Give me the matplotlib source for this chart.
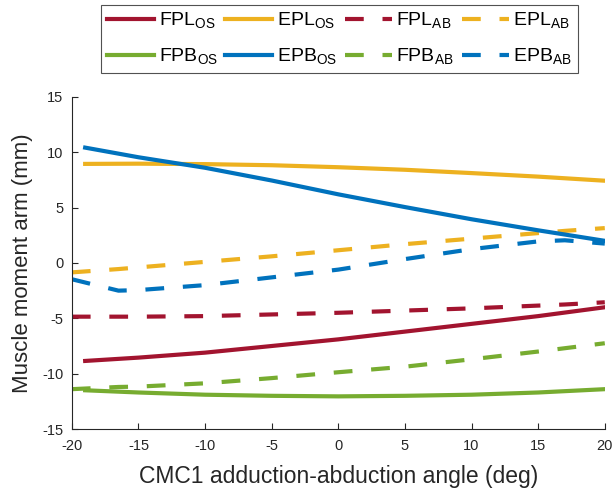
import matplotlib.pyplot as plt

plt.rcParams['font.family'] = ['Liberation Sans', 'DejaVu Sans']
plt.rcParams['axes.unicode_minus'] = False

# angulos (graus)
ang_os = [-19, -15, -10, -5, 0, 5, 10, 15, 20]
ang_ab = [-20, -16.5, -15, -10, -5, 0, 5, 10, 15, 17, 20]

# braços de momento (mm) - modelo OS
fpl_os = [-8.85, -8.55, -8.1, -7.5, -6.9, -6.2, -5.5, -4.8, -4.0]
epl_os = [8.95, 8.97, 8.93, 8.83, 8.65, 8.42, 8.12, 7.8, 7.43]
fpb_os = [-11.5, -11.7, -11.9, -12.0, -12.05, -12.0, -11.9, -11.7, -11.4]
epb_os = [10.42, 9.55, 8.6, 7.45, 6.2, 5.05, 3.95, 2.95, 2.0]

# braços de momento (mm) - modelo AB
fpl_ab = [-4.85, -4.85, -4.85, -4.8, -4.65, -4.5, -4.3, -4.1, -3.85, -3.75, -3.55]
epl_ab = [-0.85, -0.55, -0.4, 0.1, 0.6, 1.15, 1.7, 2.2, 2.7, 2.9, 3.15]
fpb_ab = [-11.4, -11.2, -11.17, -10.87, -10.4, -9.87, -9.37, -8.7, -8.0, -7.7, -7.25]
epb_ab = [-1.47, -2.5, -2.45, -2.0, -1.3, -0.6, 0.35, 1.25, 1.95, 2.05, 1.75]

c_fpl = '#A2142F'
c_epl = '#EDB120'
c_fpb = '#77AC30'
c_epb = '#0072BD'
c_eixo = '#262626'

fig = plt.figure(figsize=(6.14, 4.92), dpi=100)
ax = fig.add_axes([0.117, 0.128, 0.868, 0.675])

lw = 3
dash = (4.5, 4.5)
h1, = ax.plot(ang_os, fpl_os, color=c_fpl, lw=lw)
h2, = ax.plot(ang_os, epl_os, color=c_epl, lw=lw)
h3, = ax.plot(ang_ab, fpl_ab, color=c_fpl, lw=lw, dashes=dash)
h4, = ax.plot(ang_ab, epl_ab, color=c_epl, lw=lw, dashes=dash)
h5, = ax.plot(ang_os, fpb_os, color=c_fpb, lw=lw)
h6, = ax.plot(ang_os, epb_os, color=c_epb, lw=lw)
h7, = ax.plot(ang_ab, fpb_ab, color=c_fpb, lw=lw, dashes=dash)
h8, = ax.plot(ang_ab, epb_ab, color=c_epb, lw=lw, dashes=dash)

ax.set_xlim(-20, 20)
ax.set_ylim(-15, 15)
ax.set_xticks(range(-20, 21, 5))
ax.set_yticks(range(-15, 16, 5))
ax.spines['top'].set_visible(False)
ax.spines['right'].set_visible(False)
for s in ['left', 'bottom']:
    ax.spines[s].set_color(c_eixo)
ax.tick_params(direction='in', colors=c_eixo, labelsize=10.5, length=4)
ax.tick_params(axis='x', pad=7)
ax.tick_params(axis='y', pad=6)
ax.set_xlabel('CMC1 adduction-abduction angle (deg)', fontsize=16.5, color=c_eixo, labelpad=9)
ax.set_ylabel('Muscle moment arm (mm)', fontsize=16, color=c_eixo, labelpad=7)

# legenda 4x2, preenchida por colunas
handles = [h1, h5, h2, h6, h3, h7, h4, h8]
labels = ['FPL$_{\\mathregular{OS}}$', 'FPB$_{\\mathregular{OS}}$',
          'EPL$_{\\mathregular{OS}}$', 'EPB$_{\\mathregular{OS}}$',
          'FPL$_{\\mathregular{AB}}$', 'FPB$_{\\mathregular{AB}}$',
          'EPL$_{\\mathregular{AB}}$', 'EPB$_{\\mathregular{AB}}$']
leg = fig.legend(handles, labels, ncol=4, loc='upper center',
                 bbox_to_anchor=(0.553, 0.99), fontsize=14, frameon=True,
                 fancybox=False, edgecolor=c_eixo, handlelength=2.4,
                 columnspacing=0.4, handletextpad=0.25, labelspacing=0.8,
                 borderpad=0.3, borderaxespad=0)
leg.get_frame().set_linewidth(0.8)

fig.savefig('out.png', dpi=100)
